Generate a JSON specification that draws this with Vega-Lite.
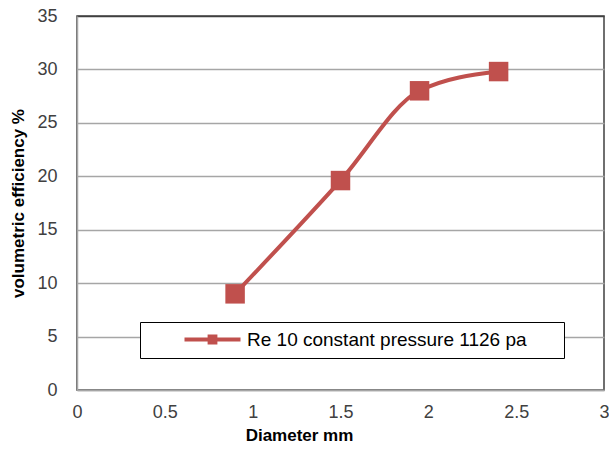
{
  "$schema": "https://vega.github.io/schema/vega-lite/v6.json",
  "width": 527,
  "height": 374,
  "autosize": {"type": "none"},
  "padding": {"left": 77, "top": 16, "right": 5, "bottom": 64},
  "background": "white",
  "config": {
    "view": {"stroke": "#404040", "strokeWidth": 1.5},
    "font": "Liberation Sans"
  },
  "data": {
    "values": [
      {"diameter": 0.9, "efficiency": 9.0, "series": "Re 10 constant pressure 1126 pa"},
      {"diameter": 1.5, "efficiency": 19.6, "series": "Re 10 constant pressure 1126 pa"},
      {"diameter": 1.95, "efficiency": 28.0, "series": "Re 10 constant pressure 1126 pa"},
      {"diameter": 2.4, "efficiency": 29.8, "series": "Re 10 constant pressure 1126 pa"}
    ]
  },
  "encoding": {
    "x": {
      "field": "diameter", "type": "quantitative",
      "scale": {"domain": [0, 3], "nice": false},
      "axis": {
        "values": [0, 0.5, 1, 1.5, 2, 2.5, 3],
        "format": "~g",
        "title": "Diameter mm",
        "titleFont": "Liberation Sans", "titleFontSize": 17, "titleFontWeight": "bold", "titleColor": "#000000",
        "titlePadding": 6,
        "titleX": 222,
        "labelFont": "Liberation Sans", "labelFontSize": 18, "labelColor": "#404040", "labelPadding": 13,
        "labelFlush": false,
        "ticks": false, "grid": false,
        "domainColor": "#A6A6A6", "domainWidth": 1.5
      }
    },
    "y": {
      "field": "efficiency", "type": "quantitative",
      "scale": {"domain": [0, 35], "nice": false},
      "axis": {
        "values": [0, 5, 10, 15, 20, 25, 30, 35],
        "title": "volumetric efficiency %",
        "titleFont": "Liberation Sans", "titleFontSize": 17, "titleFontWeight": "bold", "titleColor": "#000000",
        "titlePadding": 9,
        "labelFont": "Liberation Sans", "labelFontSize": 18, "labelColor": "#404040", "labelPadding": 20,
        "ticks": false,
        "grid": true,
        "gridColor": {"condition": {"test": "datum.value == 35", "value": "#404040"}, "value": "#A6A6A6"},
        "gridWidth": 1.5,
        "domainColor": "#A6A6A6", "domainWidth": 1.5
      }
    },
    "color": {
      "field": "series", "type": "nominal",
      "scale": {"range": ["#C0504D"]},
      "legend": {
        "title": null,
        "orient": "none",
        "legendX": 63,
        "legendY": 306,
        "direction": "vertical",
        "fillColor": "white",
        "strokeColor": "#000000",
        "padding": 8,
        "symbolType": "M-4,-0.3H4V0.3H-4Z M-0.7,-0.7H0.7V0.7H-0.7Z",
        "symbolSize": 196,
        "symbolStrokeWidth": 0,
        "symbolOffset": 55,
        "labelFont": "Liberation Sans",
        "labelFontSize": 19,
        "labelColor": "#000000",
        "labelOffset": 25,
        "labelLimit": 600,
        "labelExpr": "datum.label + '\u2003\u2002\u200b'"
      }
    }
  },
  "layer": [
    {
      "mark": {"type": "line", "interpolate": "monotone", "strokeWidth": 4, "color": "#C0504D"}
    },
    {
      "mark": {"type": "point", "shape": "square", "filled": true, "size": 380, "opacity": 1, "color": "#C0504D"}
    }
  ]
}
